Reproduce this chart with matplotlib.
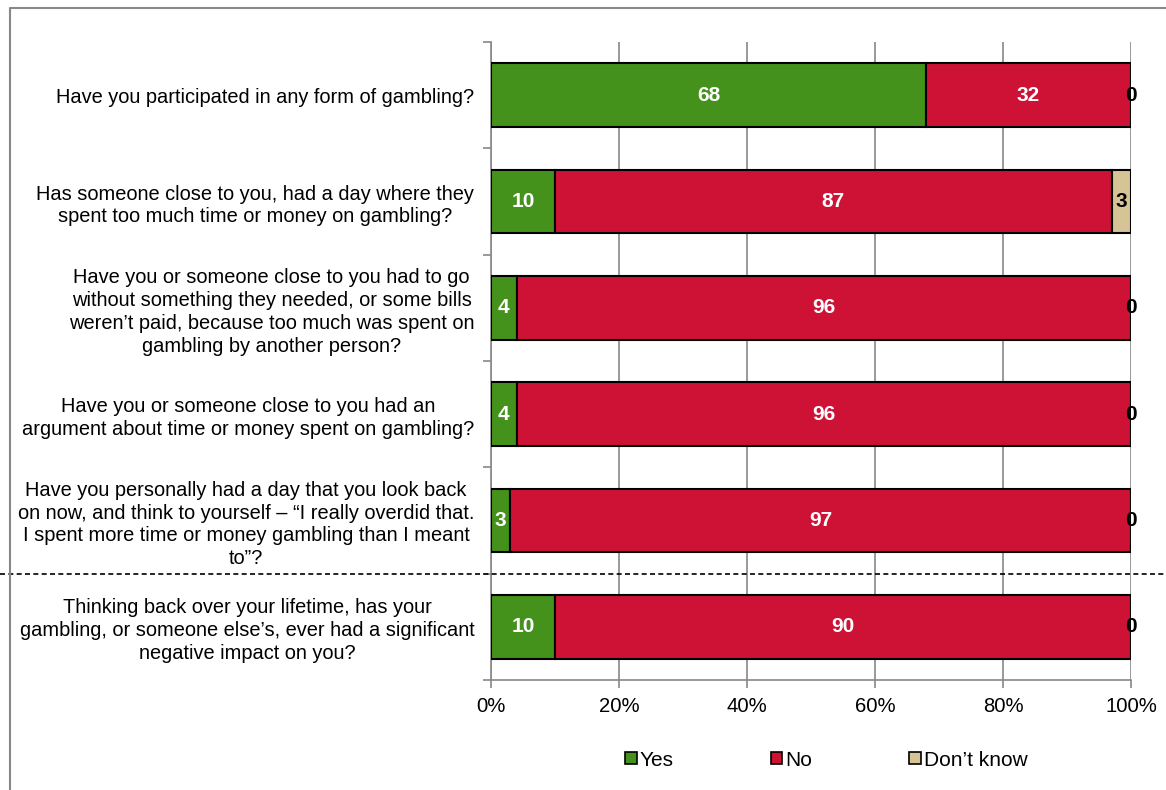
import matplotlib.pyplot as plt
import matplotlib.transforms as mtransforms
from matplotlib.lines import Line2D
from matplotlib.patches import Patch

plt.rcParams['font.family'] = ['Liberation Sans', 'DejaVu Sans']

questions = [
    'Have you participated in any form of gambling?',
    'Has someone close to you, had a day where they\nspent too much time or money on gambling?',
    'Have you or someone close to you had to go\nwithout something they needed, or some bills\nweren\u2019t paid, because too much was spent on\ngambling by another person?',
    'Have you or someone close to you had an\nargument about time or money spent on gambling?',
    'Have you personally had a day that you look back\non now, and think to yourself \u2013 \u201cI really overdid that.\nI spent more time or money gambling than I meant\nto\u201d?',
    'Thinking back over your lifetime, has your\ngambling, or someone else\u2019s, ever had a significant\nnegative impact on you?',
]
yes = [68, 10, 4, 4, 3, 10]
no = [32, 87, 96, 96, 97, 90]
dont_know = [0, 3, 0, 0, 0, 0]

series = [('Yes', yes, '#44921c', 'white'),
          ('No', no, '#ce1235', 'white'),
          ('Don\u2019t know', dont_know, '#d6c496', 'black')]

fig = plt.figure(figsize=(11.66, 7.90), dpi=100)
ax = fig.add_axes([0.4211, 0.1392, 0.9700 - 0.4211, 0.9468 - 0.1392])

ypos = list(range(len(questions)))
left = [0] * len(questions)
for name, vals, color, txtcolor in series:
    ax.barh(ypos, vals, left=left, height=0.6, color=color,
            edgecolor='black', linewidth=1.5, label=name, zorder=3)
    for y, l, v in zip(ypos, left, vals):
        tc = txtcolor if v > 0 else 'black'
        ax.text(l + v / 2, y, str(v), ha='center', va='center',
                color=tc, fontsize=15, fontweight='bold', zorder=4)
    left = [a + b for a, b in zip(left, vals)]

ax.set_xlim(0, 100)
ax.set_ylim(len(questions) - 0.5, -0.5)
ax.set_xticks([0, 20, 40, 60, 80, 100])
ax.set_xticklabels([f'{t}%' for t in [0, 20, 40, 60, 80, 100]], fontsize=14.6)
ax.set_yticks(ypos)
ax.set_yticklabels(questions, fontsize=14.4, multialignment='center',
                   linespacing=1.26)
ax.set_yticks([y - 0.5 for y in ypos] + [len(questions) - 0.5], minor=True)
ax.tick_params(axis='y', which='major', length=0, pad=12)
ax.tick_params(axis='y', which='minor', length=6, color='#888888', width=1.2)
ax.tick_params(axis='x', length=6, color='#888888', width=1.2, pad=6)
ax.grid(axis='x', color='#888888', linewidth=1.2, zorder=0)
for s in ['top', 'right']:
    ax.spines[s].set_visible(False)
for s in ['left', 'bottom']:
    ax.spines[s].set_color('#888888')
    ax.spines[s].set_linewidth(1.2)

# separator between the past-year items and the lifetime item
trans = mtransforms.blended_transform_factory(fig.transFigure, ax.transData)
fig.add_artist(Line2D([0, 1], [4.5, 4.5], transform=trans, color='black',
                      linestyle=(0, (3, 2)), linewidth=1.2))

# outer chart frame
fig.add_artist(Line2D([10 / 1166, 10 / 1166, 1], [0, 1 - 8 / 790, 1 - 8 / 790],
                      transform=fig.transFigure, color='#888888', linewidth=1.5))

handles = [Patch(facecolor=c, edgecolor='black', linewidth=1.2, label=n)
           for n, _, c, _ in series]
fig.legend(handles=handles, loc='center', bbox_to_anchor=(0.7088, 1 - 760 / 790),
           ncol=3, frameon=False, fontsize=15, handlelength=0.55,
           handleheight=0.55, handletextpad=0.15, columnspacing=4.65)

fig.savefig('out.png', dpi=100)
